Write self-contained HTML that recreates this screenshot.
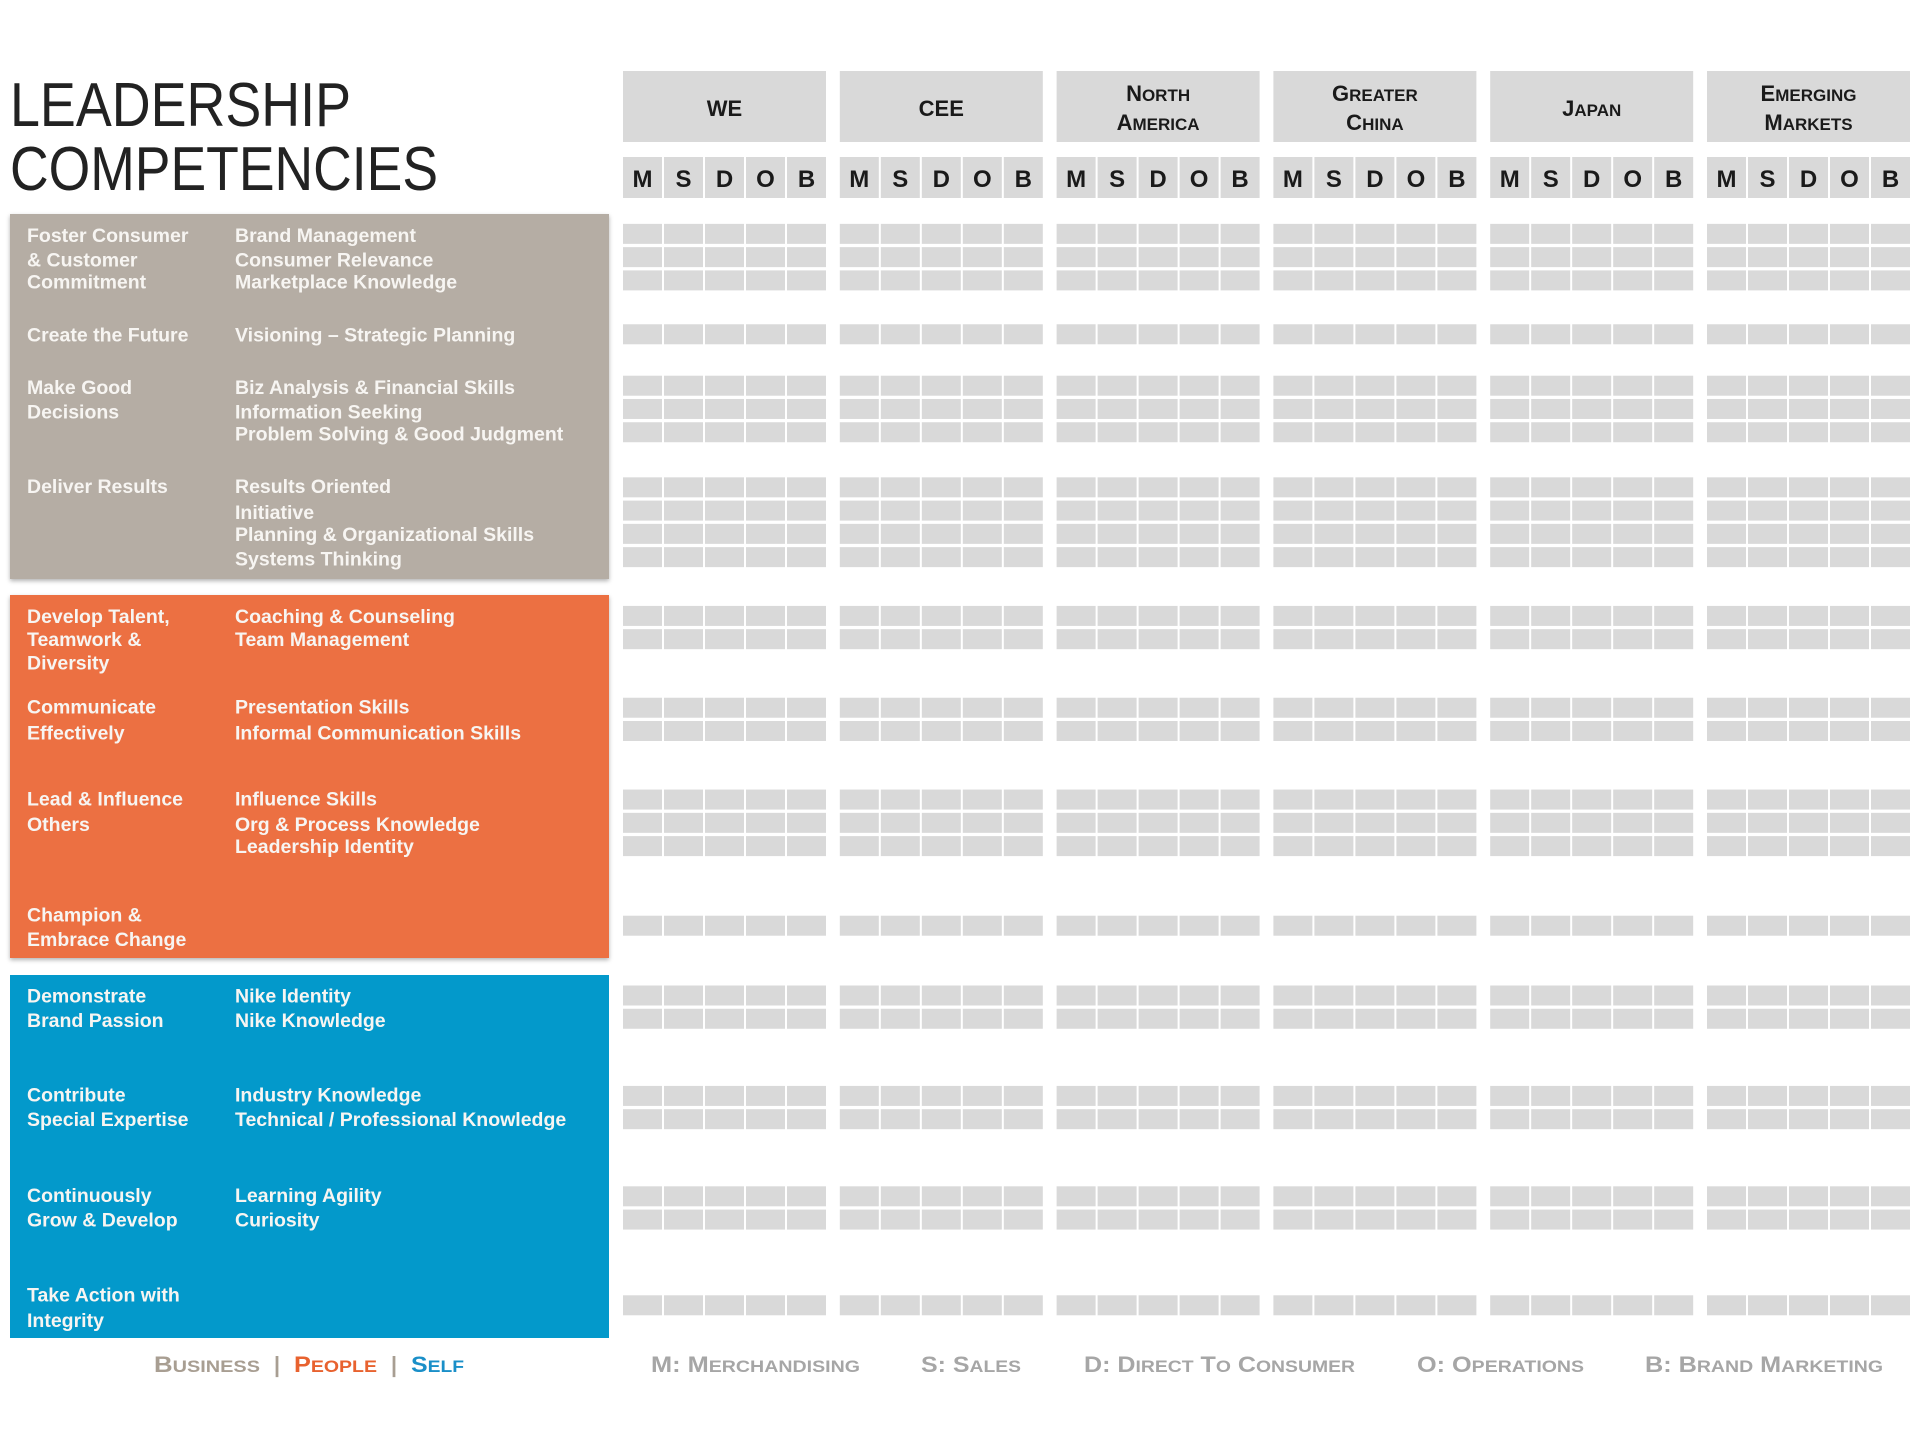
<!DOCTYPE html>
<html><head><meta charset="utf-8"><style>
html,body{margin:0;padding:0;background:#fff;width:1920px;height:1440px;overflow:hidden}
svg{display:block;font-family:"Liberation Sans",sans-serif}
</style></head><body>
<svg id="chart" width="1920" height="1440" viewBox="0 0 1920 1440">
<defs>
<filter id="sh" x="-5%" y="-5%" width="110%" height="115%"><feDropShadow dx="0" dy="2" stdDeviation="2" flood-color="#000" flood-opacity="0.3"/></filter>
</defs>
<text x="10" y="126" font-size="62" fill="#222" textLength="341" lengthAdjust="spacingAndGlyphs">LEADERSHIP</text>
<text x="10" y="190" font-size="62" fill="#222" textLength="428" lengthAdjust="spacingAndGlyphs">COMPETENCIES</text>
<rect x="10" y="214" width="599" height="365" fill="#b5ada4" filter="url(#sh)"/>
<rect x="10" y="595" width="599" height="363" fill="#ec7043" filter="url(#sh)"/>
<rect x="10" y="975" width="599" height="363" fill="#0399cb"/>
<g id="panelText" font-size="19.5" font-weight="bold" fill="#f7f5f2"></g>
<g id="headers"></g>
<g id="grid"></g>
<g id="footer" font-weight="bold"></g>
</svg>
<script>
const NS='http://www.w3.org/2000/svg';
const S=1.2245;
const regions=[['WE'],['CEE'],['North','America'],['Greater','China'],['Japan'],['Emerging','Markets']];
const functions=['M','S','D','O','B'];
// row top positions (display units) of each competency block, and number of rows
const blockTops=[182,264,306,389,494,569,644,747,804,886,968,1057];
const blockRows=[3,1,3,4,2,2,3,1,2,2,2,1];
const col1Lines=[[192,'Foster Consumer'],[212,'& Customer'],[230,'Commitment'],[273,'Create the Future'],[316,'Make Good'],[336,'Decisions'],[397,'Deliver Results'],
[503,'Develop Talent,'],[522,'Teamwork &'],[541,'Diversity'],[577,'Communicate'],[598,'Effectively'],[652,'Lead & Influence'],[673,'Others'],[747,'Champion &'],[767,'Embrace Change'],
[813,'Demonstrate'],[833,'Brand Passion'],[894,'Contribute'],[914,'Special Expertise'],[976,'Continuously'],[996,'Grow & Develop'],[1057,'Take Action with'],[1078,'Integrity']];
const col2Lines=[[192,'Brand Management'],[212,'Consumer Relevance'],[230,'Marketplace Knowledge'],[273,'Visioning – Strategic Planning'],[316,'Biz Analysis & Financial Skills'],[336,'Information Seeking'],[354,'Problem Solving & Good Judgment'],
[397,'Results Oriented'],[418,'Initiative'],[436,'Planning & Organizational Skills'],[456,'Systems Thinking'],
[503,'Coaching & Counseling'],[522,'Team Management'],[577,'Presentation Skills'],[598,'Informal Communication Skills'],[652,'Influence Skills'],[673,'Org & Process Knowledge'],[691,'Leadership Identity'],
[813,'Nike Identity'],[833,'Nike Knowledge'],[894,'Industry Knowledge'],[914,'Technical / Professional Knowledge'],[976,'Learning Agility'],[996,'Curiosity']];
const legend=[['M: ','Merchandising',651,209],['S: ','Sales',921,100],['D: ','Direct To Consumer',1084,271],['O: ','Operations',1417,167],['B: ','Brand Marketing',1645,238]];

function el(tag,attrs,parent){const e=document.createElementNS(NS,tag);for(const k in attrs)e.setAttribute(k,attrs[k]);parent.appendChild(e);return e;}
function sc(parent,word,big,small){
  const f=el('tspan',{'font-size':big},parent);f.textContent=word[0].toUpperCase();
  const r=el('tspan',{'font-size':small},parent);r.textContent=word.slice(1).toUpperCase();
}
const pt=document.getElementById('panelText');
col1Lines.forEach(l=>{const t=el('text',{x:27,y:l[0]*S+7},pt);t.textContent=l[1];

});
col2Lines.forEach(l=>{const t=el('text',{x:235,y:l[0]*S+7},pt);t.textContent=l[1];

});

const GX0=623, GP=216.8, CW=39, CG=2;
const hd=document.getElementById('headers');
regions.forEach((r,i)=>{
  const x=GX0+i*GP;
  const b=el('rect',{x:x,y:71,width:203,height:71,fill:'#d9d9d9'},hd);
  
  
  r.forEach((w,j)=>{
    const y=r.length===1?116:(101+j*29);
    const t=el('text',{x:x+101.5,y:y,'text-anchor':'middle','font-weight':'bold',fill:'#1a1a1a'},hd);
    if(w.length<=3){t.setAttribute('font-size',22);t.textContent=w;} else sc(t,w,22,17);
    
    
  });
  functions.forEach((f,k)=>{
    const cx=x+k*(CW+CG);
    const c=el('rect',{x:cx,y:157,width:CW,height:41,fill:'#d9d9d9'},hd);
    
    
    const t=el('text',{x:cx+CW/2,y:187,'text-anchor':'middle','font-size':24,'font-weight':'bold',fill:'#1a1a1a'},hd);
    t.textContent=f;
    
    
  });
});
const gr=document.getElementById('grid');
blockTops.forEach((top,bi)=>{
  for(let r=0;r<blockRows[bi];r++){
    const y=(top+r*19)*S+1;
    regions.forEach((_,i)=>{
      functions.forEach((f,k)=>{
        const c=el('rect',{x:GX0+i*GP+k*(CW+CG),y:y,width:CW,height:20,fill:'#d9d9d9'},gr);
        
        
      });
    });
  }
});
const ft=document.getElementById('footer');
function legendText(x,y,parts,fill,len,name){
  const t=el('text',{x:x,y:y,fill:fill,textLength:len,lengthAdjust:'spacingAndGlyphs'},ft);
  parts.forEach(p=>{ if(p.sc) sc(t,p.s,22,17); else {const s=el('tspan',{'font-size':22},t);s.textContent=p.s;} });
  
  
}
legendText(154,1372,[{s:'Business',sc:1}],'#a89e92',106,'legend-business');
legendText(274,1372,[{s:'|'}],'#a89e92',6,'legend-separator');
legendText(294,1372,[{s:'People',sc:1}],'#e8622f',83,'legend-people');
legendText(391,1372,[{s:'|'}],'#a89e92',6,'legend-separator');
legendText(411,1372,[{s:'Self',sc:1}],'#1a8fc8',53,'legend-self');
legend.forEach(l=>{
  const words=l[1].split(' ');
  const t=el('text',{x:l[2],y:1372,fill:'#a6a6a6',textLength:l[3],lengthAdjust:'spacingAndGlyphs'},ft);
  const a=el('tspan',{'font-size':22},t);a.textContent=l[0];
  words.forEach((w,i)=>{const f=el('tspan',{'font-size':22},t);f.textContent=(i?' ':'')+w[0].toUpperCase();
    const r=el('tspan',{'font-size':17},t);r.textContent=w.slice(1).toUpperCase();});
  
  
});
</script>
</body></html>
